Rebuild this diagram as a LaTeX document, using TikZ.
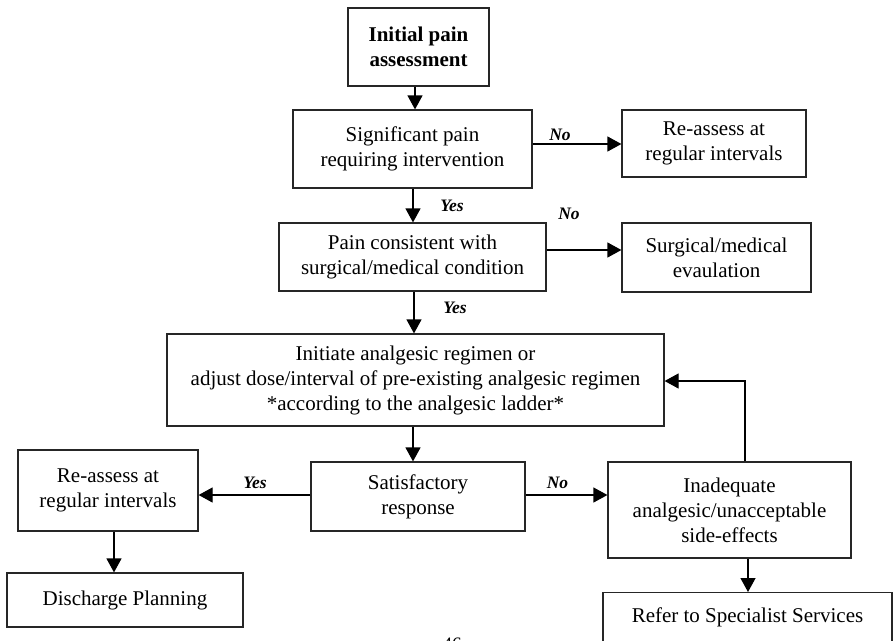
\documentclass[tikz,border=0pt]{standalone}
\usepackage{fontspec}
\setmainfont{Liberation Serif}
\usetikzlibrary{arrows.meta}
\begin{document}
\begin{tikzpicture}[x=1pt,y=-1pt,
  box/.style={draw=black!85, line width=1.2pt, align=center, inner sep=0pt,
    font=\fontsize{21}{25}\selectfont},
  arr/.style={line width=1.2pt, -{Triangle[length=14pt,width=15pt]}},
  lab/.style={font=\fontsize{17.5}{20}\selectfont\bfseries\itshape, inner sep=0pt}]
\useasboundingbox (0,0) rectangle (893,640);
\clip (0,0) rectangle (893,640);

% boxes
\node[box, minimum width=141pt, minimum height=78pt] (b1) at (418.5,47) {\bfseries Initial pain\\\bfseries assessment};
\node[box, minimum width=239pt, minimum height=78pt] (b2) at (412.5,149) {Significant pain\\requiring intervention};
\node[box, minimum width=184pt, minimum height=67pt] (r1) at (714,143.5) {Re-assess at\\regular intervals};
\node[box, minimum width=267pt, minimum height=68pt] (b3) at (412.5,257) {Pain consistent with\\surgical/medical condition};
\node[box, minimum width=189pt, minimum height=69pt] (r2) at (716.5,257.5) {Surgical/medical\\evaulation};
\node[box, minimum width=497pt, minimum height=92pt] (b4) at (415.5,380) {Initiate analgesic regimen or\\adjust dose/interval of pre-existing analgesic regimen\\*according to the analgesic ladder*};
\node[box, minimum width=214pt, minimum height=69pt] (b5) at (418,496.5) {Satisfactory\\response};
\node[box, minimum width=180pt, minimum height=81pt] (l1) at (108,490.5) {Re-assess at\\regular intervals};
\node[box, minimum width=236pt, minimum height=54pt] (l2) at (125,600) {Discharge Planning};
\node[box, minimum width=243pt, minimum height=96pt] (r3) at (729.5,510) {Inadequate\\analgesic/unacceptable\\side-effects};
\node[box, minimum width=289pt, text height=30pt, text depth=35pt, anchor=north] (r4) at (747.5,592) {Refer to Specialist Services};
\node[font=\fontsize{19}{22}\selectfont, inner sep=0pt, anchor=base] (pg) at (452,650) {46};

% connectors
\draw[arr] (b1.south -| 415,0) -- (b2.north -| 415,0);
\draw[arr] (b2.east |- 0,144) -- (r1.west |- 0,144);
\draw[arr] (b2.south -| 413,0) -- (b3.north -| 413,0);
\draw[arr] (b3.east |- 0,250) -- (r2.west |- 0,250);
\draw[arr] (b3.south -| 414,0) -- (b4.north -| 414,0);
\draw[arr] (b4.south -| 413,0) -- (b5.north -| 413,0);
\draw[arr] (b5.west |- 0,495) -- (l1.east |- 0,495);
\draw[arr] (l1.south -| 114,0) -- (l2.north -| 114,0);
\draw[arr] (b5.east |- 0,495) -- (r3.west |- 0,495);
\draw[arr] (r3.north -| 745,0) -- (745,381) -- (b4.east |- 0,381);
\draw[arr] (r3.south -| 748,0) -- (r4.north -| 748,0);

% labels
\node[lab] (n1) at (560,135) {No};
\node[lab] (y1) at (452,206) {Yes};
\node[lab] (n2) at (569,214) {No};
\node[lab] (y2) at (455,308) {Yes};
\node[lab] (y3) at (255,483) {Yes};
\node[lab] (n3) at (557.5,483) {No};
\end{tikzpicture}
\end{document}
